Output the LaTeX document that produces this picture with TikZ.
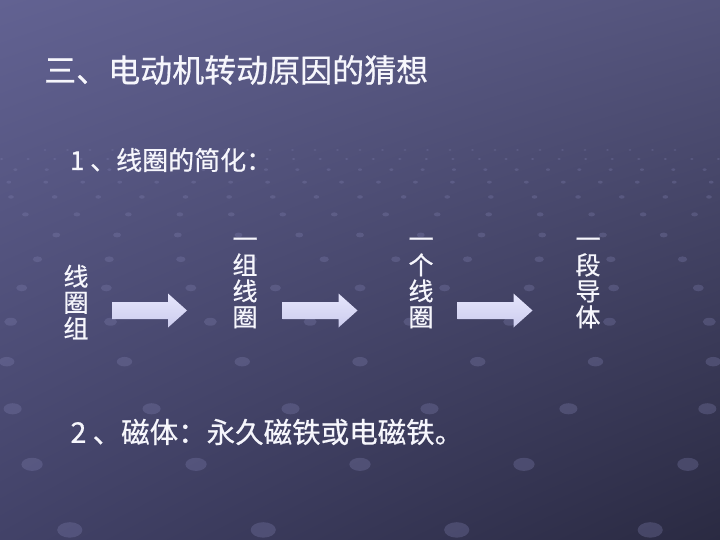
\documentclass[tikz,border=0pt]{standalone}
\usepackage{fontspec}
\setmainfont{Noto Sans CJK SC}[FakeBold=0.6]
\usetikzlibrary{positioning, shadings}
\definecolor{bgUL}{RGB}{98,98,146}
\definecolor{bgUR}{RGB}{84,84,124}
\definecolor{bgLL}{RGB}{66,66,104}
\definecolor{bgLR}{RGB}{42,42,66}
\definecolor{dotcol}{RGB}{130,130,178}
\definecolor{arrowlight}{RGB}{230,230,252}
\definecolor{arrowdark}{RGB}{204,204,238}
\definecolor{slidetext}{RGB}{246,246,252}

\begin{document}
\begin{tikzpicture}[x=1pt,y=-1pt,
  heading/.style={anchor=west, text=slidetext, inner sep=0pt, font=\fontsize{32}{36}\selectfont},
  item/.style={anchor=west, text=slidetext, inner sep=0pt},
  vlabel/.style={text=slidetext, align=center, inner sep=0pt, font=\fontsize{25}{26}\selectfont},
  blockarr/.pic={
    \shade[top color=arrowlight, bottom color=arrowdark]
      (-37.5,-8.5) -- (18.5,-8.5) -- (18.5,-17) -- (37.5,0) -- (18.5,17) -- (18.5,8.5) -- (-37.5,8.5) -- cycle;
  }]
  % --- background ---
  \shade[upper left=bgUL, upper right=bgUR, lower left=bgLL, lower right=bgLR]
    (0,0) rectangle (720,540);
  \begin{scope}
    \clip (0,0) rectangle (720,540);
    % perspective dot grid
    \foreach \n in {0,...,13}{
      \pgfmathsetmacro\yy{100+50*1.18^\n}
      \pgfmathsetmacro\ss{0.45*(\yy-100)}
      \pgfmathsetmacro\off{0.5*mod(\n,2)}
      \foreach \i in {-14,...,14}{
        \fill[dotcol, opacity=0.3] ({360+(\i+\off)*\ss},\yy) ellipse ({0.065*\ss} and {0.04*\ss});
      }
    }
  \end{scope}

  % --- texts ---
  \node[heading] (title) at (44,70) {三、电动机转动原因的猜想};
  \node[item, font=\fontsize{26}{30}\selectfont] (simplify) at (64,160) {\makebox[1em][c]{1}、线圈的简化：};
  \node[item, font=\fontsize{28.5}{32}\selectfont] (magnet) at (64,432) {\makebox[1em][c]{2}、磁体：永久磁铁或电磁铁。};

  % --- simplification chain ---
  \node[vlabel] (coilset) at (76,302) {线\\圈\\组};
  \node[vlabel] (onegroup) at (245,283) {一\\组\\线\\圈};
  \node[vlabel] (onecoil) at (421,283) {一\\个\\线\\圈};
  \node[vlabel] (segment) at (588,283) {一\\段\\导\\体};
  \pic at (149.5,310.5) {blockarr};
  \pic at (320,310.5) {blockarr};
  \pic at (495,310.5) {blockarr};
\end{tikzpicture}
\end{document}
